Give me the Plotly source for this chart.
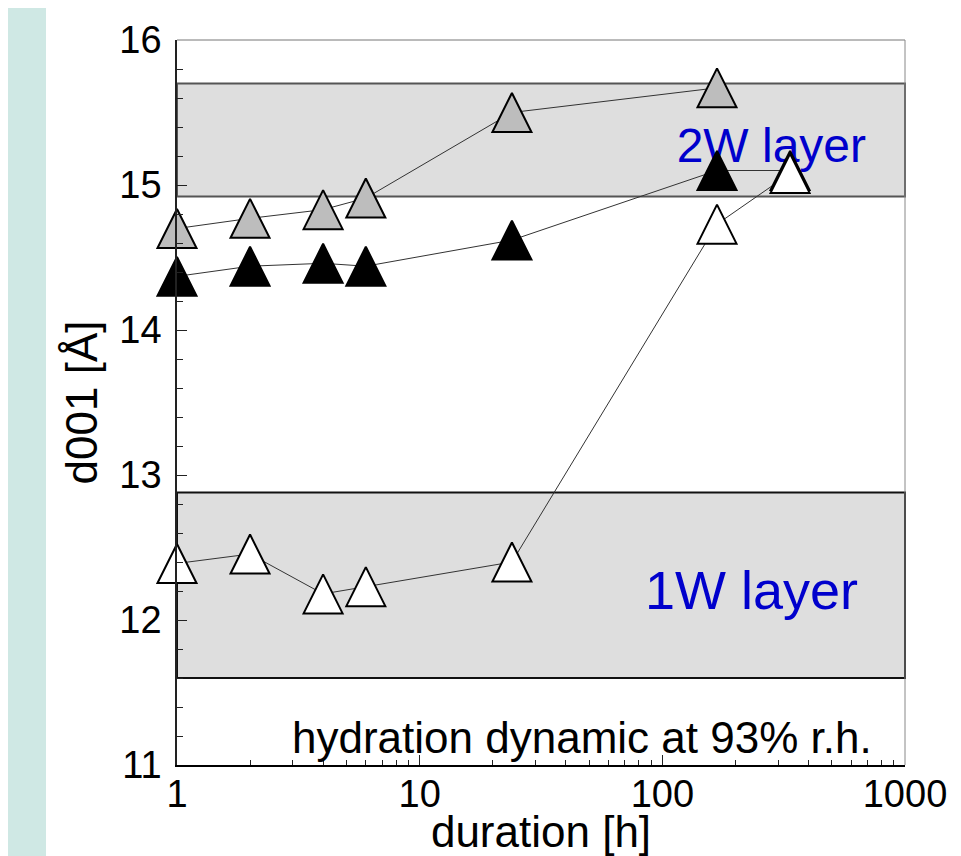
import plotly.graph_objects as go

# ---- data ----
hours_grey = [1, 2, 4, 6, 24, 168]
d001_grey = [14.70, 14.77, 14.83, 14.91, 15.50, 15.67]

hours_black = [1, 2, 4, 6, 24, 168, 336]
d001_black = [14.37, 14.44, 14.46, 14.44, 14.62, 15.10, 15.10]

hours_white = [1, 2, 4, 6, 24, 168, 336]
d001_white = [12.39, 12.455, 12.18, 12.23, 12.40, 14.73, 15.08]

band_2w = [14.92, 15.70]
band_1w = [11.60, 12.88]

x_tick_vals = [1, 10, 100, 1000]
x_tick_text = ["1", "10", "100", "1000"]
y_range = [11, 16]

# ---- layout geometry (page has an 8px body margin) ----
OFF = 8
W, H = 961 - OFF, 856 - OFF
ML, MT = 177 - OFF, 40 - OFF
MR = W - (905 - OFF)
MB = H - (765 - OFF)
PW, PH = W - ML - MR, H - MT - MB
MS = 39  # marker size

FONT = "Liberation Sans, Arial, Helvetica, sans-serif"
TEAL = "#cfe8e4"


def px_x(px):
    """page pixel x -> paper fraction"""
    return (px - OFF - ML) / PW


def px_y(py):
    """page pixel y -> paper fraction"""
    return (H - MB - (py - OFF)) / PH


# arrow-up markers have their tip on the point: shift a marker axis so the
# triangle is centred on the value
shift = (MS / 2) / PH * (y_range[1] - y_range[0])

fig = go.Figure()

series = [
    (hours_grey, d001_grey, "#bdbdbd"),
    (hours_black, d001_black, "#000000"),
    (hours_white, d001_white, "#ffffff"),
]

for xs, ys, _ in series:
    fig.add_trace(go.Scatter(x=xs, y=ys, mode="lines",
                             line=dict(color="#333333", width=1),
                             showlegend=False, hoverinfo="skip"))

for xs, ys, col in series:
    fig.add_trace(go.Scatter(x=xs, y=ys, mode="markers", yaxis="y2",
                             cliponaxis=False,
                             marker=dict(symbol="arrow-up", size=MS, color=col,
                                         line=dict(color="#000000", width=2)),
                             showlegend=False))

minor_x = [m * 10 ** k for k in range(3) for m in range(2, 10)]

fig.update_layout(
    width=W, height=H,
    margin=dict(l=ML, r=MR, t=MT, b=MB),
    paper_bgcolor=TEAL,
    plot_bgcolor="white",
    font=dict(family=FONT, color="black"),
    xaxis=dict(
        type="log", range=[0, 3], automargin=False,
        tickmode="array", tickvals=x_tick_vals, ticktext=x_tick_text,
        ticks="inside", ticklen=10, tickwidth=1, tickcolor="#222",
        minor=dict(tickmode="array", tickvals=minor_x, ticks="inside",
                   ticklen=5, tickwidth=1, tickcolor="#222", showgrid=False),
        showgrid=False, zeroline=False,
        showline=True, linecolor="black", linewidth=2,
        tickfont=dict(size=38, family=FONT),
        ticklabelstandoff=-6,
        title=dict(text="duration [h]", font=dict(size=44, family=FONT), standoff=4),
    ),
    yaxis=dict(
        range=y_range, dtick=1, tick0=11, automargin=False,
        ticks="inside", ticklen=10, tickwidth=1, tickcolor="#222",
        minor=dict(dtick=0.2, ticks="inside", ticklen=6, tickwidth=1,
                   tickcolor="#222", showgrid=False),
        showgrid=False, zeroline=False,
        showline=True, linecolor="#222", linewidth=1.5,
        tickfont=dict(size=38, family=FONT),
        ticklabelstandoff=6,
        title=dict(text="d001 [Å]", font=dict(size=44, family=FONT), standoff=8),
    ),
    yaxis2=dict(
        overlaying="y", range=[y_range[0] - shift, y_range[1] - shift],
        visible=False, showgrid=False, zeroline=False, automargin=False,
    ),
    shapes=[
        # white panel over the teal page
        dict(type="rect", xref="paper", yref="paper", layer="below",
             x0=px_x(46), x1=px_x(W + 40),
             y0=px_y(H + 60), y1=px_y(8),
             fillcolor="white", line=dict(width=0)),
        # 2W band
        dict(type="rect", xref="x domain", yref="y", layer="below",
             x0=0, x1=1, y0=band_2w[0], y1=band_2w[1],
             fillcolor="#dedede", line=dict(color="#555555", width=2),
             label=dict(text="2W layer", textposition="middle right",
                        padding=36,
                        font=dict(size=48, color="#0000cc", family=FONT))),
        # 1W band
        dict(type="rect", xref="x domain", yref="y", layer="below",
             x0=0, x1=1, y0=band_1w[0], y1=band_1w[1],
             fillcolor="#dedede", line=dict(color="#111111", width=2),
             label=dict(text="1W layer", textposition="middle right",
                        padding=44,
                        font=dict(size=54, color="#0000cc", family=FONT))),
        # top and right frame lines
        dict(type="line", xref="x domain", yref="y domain", layer="above",
             x0=0, x1=1, y0=1, y1=1, line=dict(color="#777777", width=1)),
        dict(type="line", xref="x domain", yref="y domain", layer="above",
             x0=1, x1=1, y0=0, y1=1, line=dict(color="#888888", width=1)),
    ],
    annotations=[
        dict(text="hydration dynamic at 93% r.h.", xref="paper", yref="paper",
             x=px_x(874), y=px_y(737), xanchor="right", yanchor="middle",
             showarrow=False, font=dict(size=44, family=FONT, color="black")),
    ],
)

fig.write_html("out.html")
